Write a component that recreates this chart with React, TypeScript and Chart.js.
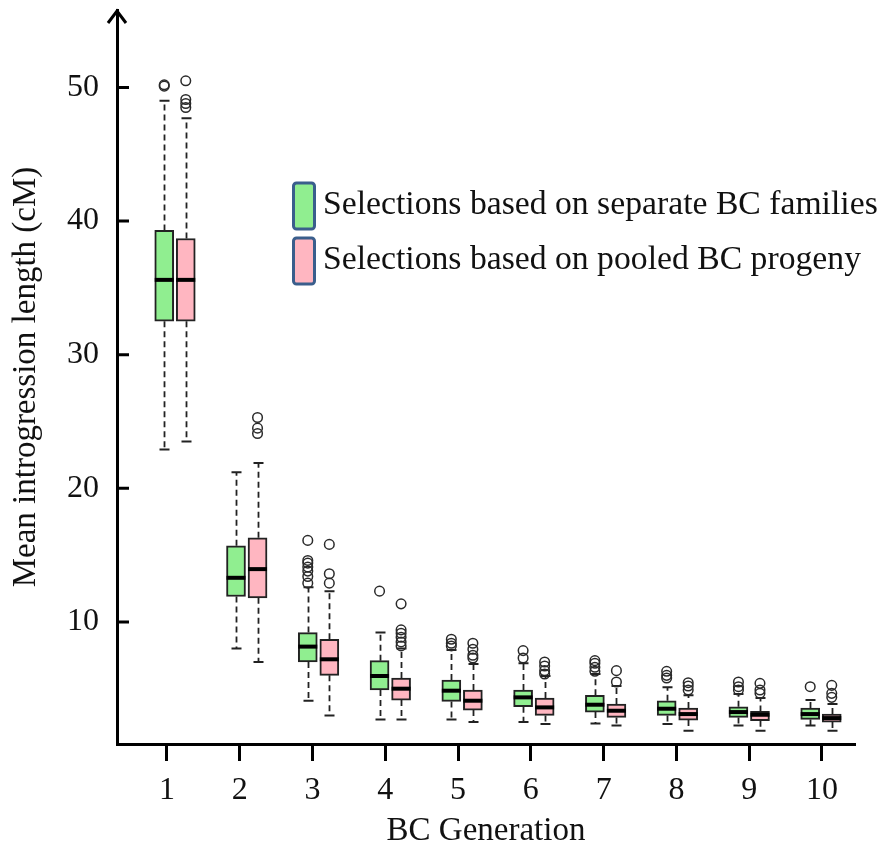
import React, { useEffect, useRef } from 'react';
import { Chart, registerables } from 'chart.js';

Chart.register(...registerables);

// ---------- data ----------
const generations = [1, 2, 3, 4, 5, 6, 7, 8, 9, 10];
const yTickValues = [10, 20, 30, 40, 50];
const seriesLabels = [
  'Selections based on separate BC families',
  'Selections based on pooled BC progeny',
];
const xAxisTitle = 'BC Generation';
const yAxisTitle = 'Mean introgression length (cM)';

// Selections based on separate BC families
const sepLow = [22.9, 8.0, 4.1, 2.7, 2.7, 2.5, 2.4, 2.35, 2.25, 2.25];
const sepQ1 = [32.5, 11.9, 7.0, 4.9, 4.05, 3.65, 3.25, 3.0, 2.85, 2.7];
const sepMedian = [35.6, 13.3, 8.15, 5.95, 4.85, 4.35, 3.8, 3.5, 3.25, 3.1];
const sepQ3 = [39.3, 15.7, 9.2, 7.1, 5.65, 4.9, 4.5, 4.1, 3.65, 3.55];
const sepHigh = [49.0, 21.2, 12.6, 9.2, 7.9, 6.9, 6.1, 5.1, 4.6, 4.15];
const sepOutliers = [
  [50.1, 50.2],
  [],
  [12.9, 13.4, 13.8, 14.1, 14.4, 14.6, 16.1],
  [12.3],
  [8.2, 8.4, 8.7],
  [7.3, 7.85],
  [6.3, 6.6, 6.9, 7.1],
  [5.8, 6.0, 6.3],
  [4.9, 5.15, 5.5],
  [5.15],
];

// Selections based on pooled BC progeny
const poolLow = [23.5, 7.0, 3.0, 2.7, 2.5, 2.35, 2.25, 1.85, 1.85, 1.85];
const poolQ1 = [32.5, 11.8, 6.0, 4.15, 3.4, 3.0, 2.85, 2.65, 2.6, 2.5];
const poolMedian = [35.6, 13.95, 7.2, 5.0, 4.1, 3.6, 3.35, 3.1, 3.05, 2.8];
const poolQ3 = [38.7, 16.3, 8.7, 5.8, 4.9, 4.3, 3.85, 3.55, 3.3, 3.1];
const poolHigh = [47.7, 21.9, 12.3, 8.0, 6.85, 5.95, 5.2, 4.5, 4.3, 3.85];
const poolOutliers = [
  [48.5, 48.8, 49.1, 50.5],
  [24.1, 24.5, 25.3],
  [12.9, 13.6, 15.8],
  [8.2, 8.5, 8.85, 9.15, 9.4, 11.35],
  [7.3, 7.5, 7.95, 8.4],
  [6.1, 6.35, 6.7, 7.0],
  [5.5, 6.35],
  [4.9, 5.2, 5.45],
  [4.65, 4.9, 5.4],
  [4.35, 4.65, 5.25],
];

// ---------- styling ----------
const FONT = '"Liberation Serif", "Times New Roman", serif';
const series = [
  { label: seriesLabels[0], low: sepLow, q1: sepQ1, median: sepMedian, q3: sepQ3, high: sepHigh, outliers: sepOutliers, fill: '#90EE90', offset: -0.15 },
  { label: seriesLabels[1], low: poolLow, q1: poolQ1, median: poolMedian, q3: poolQ3, high: poolHigh, outliers: poolOutliers, fill: '#FFB6C1', offset: 0.15 },
];

const boxPlotPlugin = {
  id: 'boxPlotParts',
  beforeDatasetsDraw(chart: any) {
    const ctx = chart.ctx;
    const y = chart.scales.y;
    series.forEach((s, si) => {
      const meta = chart.getDatasetMeta(si);
      meta.data.forEach((bar: any, i: number) => {
        const x = Math.round(bar.x) + 0.5;
        const yLow = y.getPixelForValue(s.low[i]);
        const yHigh = y.getPixelForValue(s.high[i]);
        const yQ1 = y.getPixelForValue(s.q1[i]);
        const yQ3 = y.getPixelForValue(s.q3[i]);
        ctx.save();
        ctx.strokeStyle = '#222';
        ctx.lineWidth = 1.8;
        ctx.setLineDash([6, 4]);
        ctx.beginPath();
        ctx.moveTo(x, yQ3);
        ctx.lineTo(x, yHigh);
        ctx.moveTo(x, yQ1);
        ctx.lineTo(x, yLow);
        ctx.stroke();
        ctx.setLineDash([]);
        ctx.lineWidth = 2;
        ctx.beginPath();
        ctx.moveTo(x - 5, yHigh);
        ctx.lineTo(x + 5, yHigh);
        ctx.moveTo(x - 5, yLow);
        ctx.lineTo(x + 5, yLow);
        ctx.stroke();
        ctx.restore();
      });
    });
  },
  afterDatasetsDraw(chart: any) {
    const ctx = chart.ctx;
    const y = chart.scales.y;
    series.forEach((s, si) => {
      const meta = chart.getDatasetMeta(si);
      meta.data.forEach((bar: any, i: number) => {
        const yMed = y.getPixelForValue(s.median[i]);
        ctx.save();
        ctx.strokeStyle = '#000';
        ctx.lineWidth = 4;
        ctx.beginPath();
        ctx.moveTo(bar.x - bar.width / 2, yMed);
        ctx.lineTo(bar.x + bar.width / 2, yMed);
        ctx.stroke();
        ctx.restore();
      });
    });
  },
  afterDraw(chart: any) {
    const ctx = chart.ctx;
    const { left, top } = chart.chartArea;
    const y = chart.scales.y;
    ctx.save();
    ctx.strokeStyle = '#000';
    ctx.lineWidth = 3;
    // inward y ticks
    ctx.beginPath();
    y.ticks.forEach((t: any) => {
      const py = y.getPixelForValue(t.value);
      ctx.moveTo(left, py);
      ctx.lineTo(left + 12, py);
    });
    ctx.stroke();
    // arrow head on y axis
    ctx.lineJoin = 'miter';
    ctx.beginPath();
    ctx.moveTo(left - 9, top + 13);
    ctx.lineTo(left, top + 1);
    ctx.lineTo(left + 9, top + 13);
    ctx.stroke();
    // legend
    const lx = left + 176.5;
    const rows = [top + 173, top + 228];
    series.forEach((s, si) => {
      const by = rows[si];
      ctx.fillStyle = s.fill;
      ctx.strokeStyle = '#3A5E8C';
      ctx.lineWidth = 3;
      ctx.beginPath();
      (ctx as any).roundRect(lx, by, 21, 46, 3);
      ctx.fill();
      ctx.stroke();
      ctx.fillStyle = '#111';
      ctx.font = `33.7px ${FONT}`;
      ctx.textBaseline = 'alphabetic';
      ctx.textAlign = 'left';
      ctx.fillText(s.label, lx + 29.5, by + 31);
    });
    ctx.restore();
  },
};

export default function App() {
  const canvasRef = useRef<HTMLCanvasElement | null>(null);

  useEffect(() => {
    document.body.style.margin = '0';
    const canvas = canvasRef.current;
    if (!canvas) return;

    const boxDatasets = series.map((s) => ({
      type: 'bar' as const,
      label: s.label,
      xAxisID: 'xb',
      yAxisID: 'y',
      data: generations.map((g, i) => ({ x: g + s.offset, y: [s.q1[i], s.q3[i]] })),
      backgroundColor: s.fill,
      borderColor: '#222',
      borderWidth: 2,
      borderSkipped: false,
      grouped: false,
      categoryPercentage: 1,
      barPercentage: 1,
      maxBarThickness: 19,
      order: 2,
    }));
    const outlierDatasets = series.map((s) => ({
      type: 'scatter' as const,
      label: s.label + ' (outliers)',
      xAxisID: 'xb',
      yAxisID: 'y',
      data: generations.flatMap((g, i) => s.outliers[i].map((v) => ({ x: g + s.offset, y: v }))),
      pointStyle: 'circle',
      pointRadius: 4.8,
      pointBorderWidth: 1.5,
      pointBorderColor: '#2a2a2a',
      pointBackgroundColor: 'rgba(255,255,255,0)',
      showLine: false,
      order: 1,
    }));

    const chart = new Chart(canvas, {
      type: 'bar',
      data: { datasets: [...boxDatasets, ...outlierDatasets] as any },
      options: {
        responsive: false,
        animation: false,
        layout: { padding: { top: 10, right: 28, left: 0, bottom: 0 } },
        plugins: { legend: { display: false }, tooltip: { enabled: false } },
        scales: {
          xb: {
            type: 'linear',
            display: false,
            min: 0.192,
            max: 10.474,
            offset: false,
            grid: { offset: false },
            afterBuildTicks: (sc: any) => {
              sc.ticks = generations.map((v) => ({ value: v }));
            },
          },
          x: {
            type: 'linear',
            position: 'bottom',
            min: 0.313,
            max: 10.454,
            offset: false,
            afterBuildTicks: (sc: any) => {
              sc.ticks = generations.map((v) => ({ value: v }));
            },
            afterFit: (sc: any) => {
              sc.height = 104;
              sc.paddingLeft = 0;
              sc.paddingRight = 0;
            },
            ticks: {
              autoSkip: false,
              maxRotation: 0,
              padding: 10,
              color: '#111',
              font: { family: FONT, size: 32 },
              callback: (v: any) => String(v),
            },
            grid: {
              display: true,
              offset: false,
              drawOnChartArea: false,
              drawTicks: true,
              tickLength: 17,
              tickWidth: 3,
              tickColor: '#000',
            },
            border: { display: true, width: 3, color: '#000' },
            title: {
              display: true,
              text: xAxisTitle,
              color: '#111',
              font: { family: FONT, size: 33, lineHeight: 1 },
              padding: { top: 0, bottom: 0 },
            },
          },
          y: {
            type: 'linear',
            min: 0.86,
            max: 55.8,
            afterBuildTicks: (sc: any) => {
              sc.ticks = yTickValues.map((v) => ({ value: v }));
            },
            afterFit: (sc: any) => {
              sc.width = 117;
              sc.paddingTop = 0;
              sc.paddingBottom = 0;
            },
            ticks: {
              padding: 18,
              color: '#111',
              font: { family: FONT, size: 32 },
              callback: (v: any) => String(v),
            },
            grid: { display: false, drawTicks: false },
            border: { display: true, width: 3, color: '#000' },
            title: {
              display: true,
              text: yAxisTitle,
              color: '#111',
              font: { family: FONT, size: 33, lineHeight: 1 },
              padding: { top: 10, bottom: 0 },
            },
          },
        },
      } as any,
      plugins: [boxPlotPlugin],
    });

    return () => chart.destroy();
  }, []);

  return (
    <div style={{ width: 883, height: 848 }}>
      <canvas ref={canvasRef} width={883} height={848} />
    </div>
  );
}
